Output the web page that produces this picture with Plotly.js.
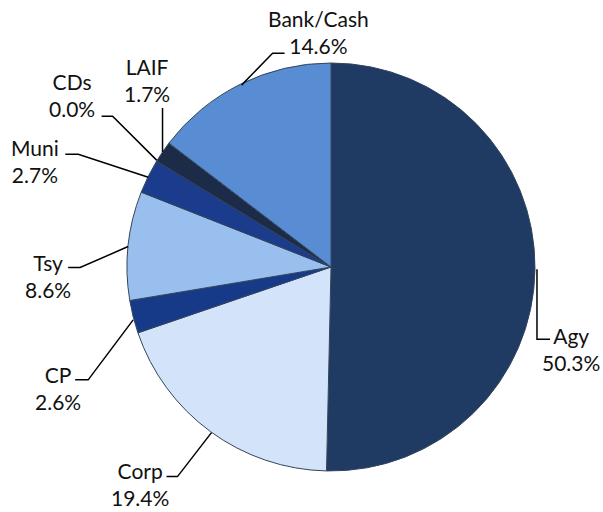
<!DOCTYPE html>
<html>
<head>
<meta charset="utf-8">
<script src="https://cdn.plot.ly/plotly-3.0.1.min.js"></script>
<style>html,body{margin:0;padding:0;background:#fff;}#chart{width:603px;height:512px;}</style>
</head>
<body>
<div id="chart"></div>
<script>
// ---- data ----
const categories = ["Agy", "Corp", "CP", "Tsy", "Muni", "CDs", "LAIF", "Bank/Cash"];
const shares = [50.3, 19.4, 2.6, 8.6, 2.7, 0.0, 1.7, 14.6];
const sliceColors = ["#1f3a63", "#d3e4fa", "#173a88", "#98bfee", "#1b3b8c", "#2a3a55", "#1c2c48", "#588dd3"];

// ---- layout / label placement (pixel offsets relative to the slice's edge midpoint) ----
const W = 603, H = 512;
const margin = {l: 127, r: 68, t: 63, b: 41, pad: 0};
const leaderOffsets = [
  [[2,0],[2,70],[15,70]],        // Agy
  [[1,1],[-33,45],[-44,45]],     // Corp
  [[0,3],[-45,63],[-58,63]],     // CP
  [[0,1],[-48,22],[-60,22]],     // Tsy
  [[0,1],[-70,-22],[-83,-22]],   // Muni
  [[0,-1],[-44,-45],[-55,-45]],  // CDs
  [[0,0],[0,-44]],               // LAIF
  [[1,1],[32,-31],[44,-31]]      // Bank/Cash
];
const textOffsets = [[36,80],[-70,52],[-75,71],[-80,30],[-113,-15],[-85,-66],[-15.5,-72],[78,-52]];

const plotW = W - margin.l - margin.r, plotH = H - margin.t - margin.b;
const cx = margin.l + plotW/2, cy = margin.t + plotH/2, R = Math.min(plotW, plotH)/2;
const toPX = px => (px - margin.l)/plotW;
const toPY = py => 1 - (py - margin.t)/plotH;

const total = shares.reduce((a,b)=>a+b, 0);
let cum = 0;
const annotations = [], shapes = [];
shares.forEach((v, i) => {
  const mid = (cum + v/2)/total * 2*Math.PI;
  cum += v;
  const ax = cx + R*Math.sin(mid), ay = cy - R*Math.cos(mid);
  const pts = leaderOffsets[i].map(p => [toPX(ax+p[0]), toPY(ay+p[1])]);
  const path = pts.map((p,k) => (k===0?'M ':'L ') + p[0] + ' ' + p[1]).join(' ');
  shapes.push({type:'path', xref:'paper', yref:'paper', path: path,
               line:{color:'#000', width:1.5}});
  annotations.push({
    xref:'paper', yref:'paper',
    x: toPX(ax + textOffsets[i][0]), y: toPY(ay + textOffsets[i][1]),
    xanchor:'center', yanchor:'middle', align:'center', showarrow:false,
    text: categories[i] + '<br>' + v.toFixed(1) + '%',
    font:{family:'Lato, "Open Sans", sans-serif', size:21, color:'#111'}
  });
});

const trace = {
  type:'pie',
  labels: categories,
  values: shares,
  sort:false,
  direction:'clockwise',
  rotation:0,
  textinfo:'none',
  hoverinfo:'none',
  marker:{colors: sliceColors, line:{color:'#34445c', width:1}},
  domain:{x:[0,1], y:[0,1]}
};

Plotly.newPlot('chart', [trace], {
  width: W, height: H,
  margin: margin,
  showlegend:false,
  paper_bgcolor:'#fff', plot_bgcolor:'#fff',
  annotations: annotations,
  shapes: shapes
}, {displayModeBar:false, staticPlot:true});
</script>
</body>
</html>
